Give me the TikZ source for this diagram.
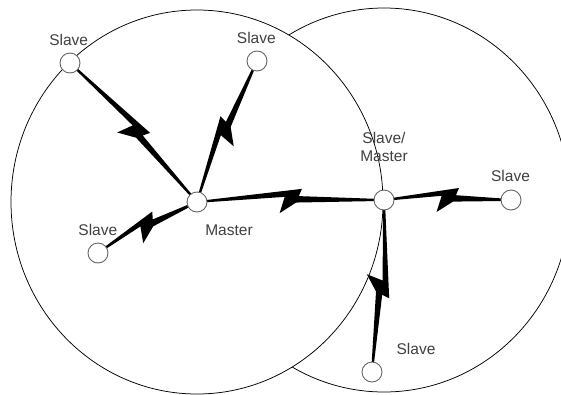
\documentclass[tikz,border=0pt]{standalone}
\usepackage{fontspec}
\setmainfont{Liberation Sans}
\usetikzlibrary{calc}
\pgfdeclarelayer{bg}
\pgfsetlayers{bg,main}
\tikzset{
  dev/.style={circle, draw=black!60, line width=0.9pt, fill=white, minimum size=20pt, inner sep=0pt},
  lbl/.style={anchor=base, text=black!75, font=\fontsize{15.5}{18.5}\selectfont, inner sep=0pt, align=center},
  cellring/.style={draw=black, line width=0.75pt},
}
\newcommand\bolt[2]{%
  \fill[black] ($(#1)!0.9pt!90:(#2)$)
   -- ($(#1)!0.5!(#2)!11.5pt!(#2)!12pt!90:(#2)$)
   -- ($(#1)!0.5!(#2)!8.4pt!(#2)!4.8pt!90:(#2)$)
   -- ($(#2)!0.9pt!-90:(#1)$)
   -- ($(#2)!0.9pt!90:(#1)$)
   -- ($(#1)!0.5!(#2)!5.6pt!(#2)!-1.6pt!90:(#2)$)
   -- ($(#1)!0.5!(#2)!-11pt!(#2)!-12pt!90:(#2)$)
   -- ($(#1)!0.5!(#2)!-5.8pt!(#2)!4.2pt!90:(#2)$)
   -- ($(#1)!-0.9pt!90:(#2)$) -- cycle;}
\begin{document}
\begin{tikzpicture}[x=1pt, y=-1pt]
\useasboundingbox (0,0) rectangle (561,394);
% devices
\node[dev] (TL) at (70,63) {};
\node[dev] (TS) at (257,61) {};
\node[dev] (M)  at (197,202) {};
\node[dev] (LS) at (98,253) {};
\node[dev] (SM) at (384,200) {};
\node[dev] (RS) at (511,200) {};
\node[dev] (BS) at (372,372) {};
% labels
\node[lbl] (tTL) at (68.7,45) {Slave};
\node[lbl] (tTS) at (256.3,43.5) {Slave};
\node[lbl] (tM)  at (229,235) {Master};
\node[lbl] (tLS) at (97.8,235) {Slave};
\node[lbl] (tSM) at (384,161.5) {Slave/\\Master};
\node[lbl] (tRS) at (510.5,181.5) {Slave};
\node[lbl] (tBS) at (416,354) {Slave};
\begin{pgfonlayer}{bg}
  \draw[cellring, fill=white] (SM.center) ellipse [x radius=186pt, y radius=192pt];
  \draw[cellring, fill=white] (M.center) ellipse [x radius=186pt, y radius=192pt];
  \bolt{TL}{M}
  \bolt{M}{TS}
  \bolt{M}{SM}
  \bolt{SM}{RS}
  \bolt{SM}{BS}
  \bolt{LS}{M}
\end{pgfonlayer}
\end{tikzpicture}
\end{document}
